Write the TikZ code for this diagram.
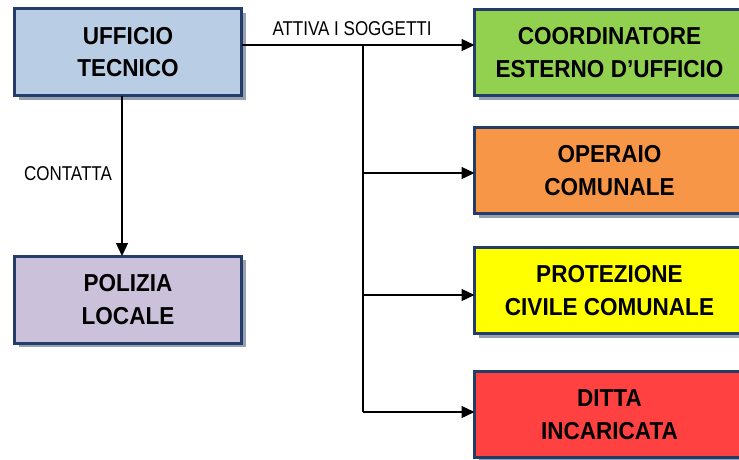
\documentclass[tikz,border=0pt]{standalone}
\usepackage{fontspec}
\setmainfont{Liberation Sans}
\newfontfamily\narrowfont[FakeStretch=0.85]{Liberation Sans}
\newfontfamily\boxfont[FakeStretch=0.92]{Liberation Sans}
\usetikzlibrary{arrows.meta,shadows}
\definecolor{bordercol}{RGB}{35,60,105}
\definecolor{shadowcol}{RGB}{150,160,175}
\definecolor{ufill}{RGB}{185,205,229}
\definecolor{gfill}{RGB}{146,208,80}
\definecolor{ofill}{RGB}{247,150,70}
\definecolor{yfill}{RGB}{255,255,0}
\definecolor{rfill}{RGB}{255,65,65}
\definecolor{pfill}{RGB}{204,193,218}
\tikzset{
  box/.style={draw=bordercol, line width=3pt, rectangle, outer sep=0pt,
    align=center, inner sep=2pt,
    font=\boxfont\bfseries\fontsize{24.5}{32.5}\selectfont,
    drop shadow={shadow xshift=4pt, shadow yshift=-4pt, fill=shadowcol, opacity=1}},
  leftbox/.style={box, minimum width=227pt, minimum height=87pt},
  rightbox/.style={box, minimum width=270pt, minimum height=86pt},
  conn/.style={draw=black, line width=1.3pt, -{Triangle[length=13pt,width=12pt]}},
  plain/.style={draw=black, line width=1.3pt},
  lab/.style={font=\narrowfont\fontsize{20}{24}\selectfont, inner sep=1pt}
}
\begin{document}
\begin{tikzpicture}[x=1pt,y=-1pt]
\clip (0,0) rectangle (739,459);
\fill[white] (0,0) rectangle (739,459);
\node[leftbox, fill=ufill] (UT) at (128,52) {UFFICIO\\TECNICO};
\node[leftbox, fill=pfill] (PL) at (128,299.5) {POLIZIA\\LOCALE};
\node[rightbox, fill=gfill] (G) at (609.5,52.5) {COORDINATORE\\ESTERNO D’UFFICIO};
\node[rightbox, fill=ofill] (O) at (609.5,170.5) {OPERAIO\\COMUNALE};
\node[rightbox, fill=yfill] (Y) at (609.5,290.5) {PROTEZIONE\\CIVILE COMUNALE};
\node[rightbox, fill=rfill] (R) at (609.5,414.5) {DITTA\\INCARICATA};
\coordinate (j1) at (363,45);
\coordinate (j2) at (363,173);
\coordinate (j3) at (363,295);
\coordinate (j4) at (363,412);
\coordinate (d) at (122,0);
\draw[conn] (UT.east |- j1) -- (G.west |- j1);
\draw[plain] (j1) -- (j4);
\draw[conn] (j2) -- (O.west |- j2);
\draw[conn] (j3) -- (Y.west |- j3);
\draw[conn] (j4) -- (R.west |- j4);
\draw[conn] (UT.south -| d) -- (PL.north -| d);
\node[lab] (l1) at (352,28.5) {ATTIVA I SOGGETTI};
\node[lab] (l2) at (68,174) {CONTATTA};
\end{tikzpicture}
\end{document}
